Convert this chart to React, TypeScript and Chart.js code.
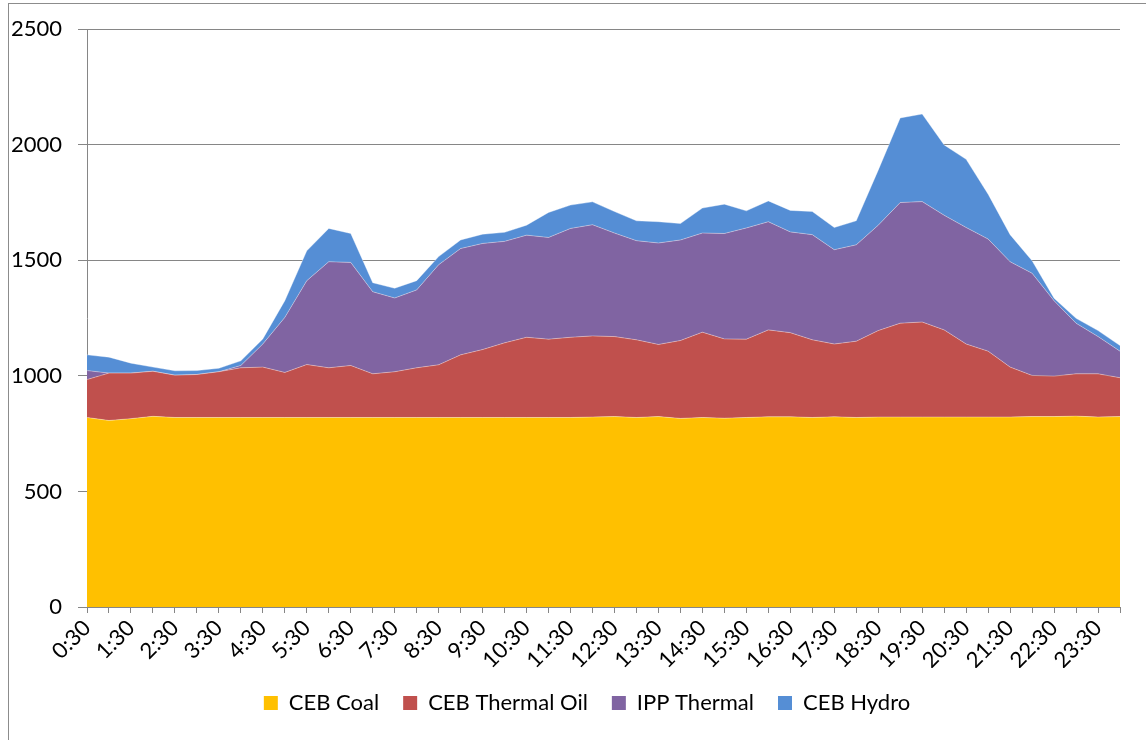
import React, { useEffect, useRef } from "react";
import { Chart, registerables } from "chart.js";
Chart.register(...registerables);

const timeLabels = [
  "0:30", "1:00", "1:30", "2:00", "2:30", "3:00", "3:30", "4:00",
  "4:30", "5:00", "5:30", "6:00", "6:30", "7:00", "7:30", "8:00",
  "8:30", "9:00", "9:30", "10:00", "10:30", "11:00", "11:30", "12:00",
  "12:30", "13:00", "13:30", "14:00", "14:30", "15:00", "15:30", "16:00",
  "16:30", "17:00", "17:30", "18:00", "18:30", "19:00", "19:30", "20:00",
  "20:30", "21:00", "21:30", "22:00", "22:30", "23:00", "23:30", "0:00",
];

const cebCoal = [
  820, 807, 815, 825, 820, 820, 820, 820, 820, 820, 820, 820,
  820, 820, 820, 820, 820, 820, 820, 820, 820, 820, 820, 822,
  824, 820, 824, 816, 820, 817, 820, 823, 823, 820, 823, 820,
  822, 822, 822, 822, 822, 822, 822, 824, 824, 826, 822, 824,
];

const cebThermalOil = [
  164, 205, 197, 195, 183, 186, 198, 215, 218, 195, 229, 215,
  225, 189, 198, 215, 228, 271, 294, 323, 347, 339, 347, 351,
  346, 336, 312, 337, 369, 343, 339, 376, 364, 336, 315, 330,
  374, 406, 411, 377, 316, 285, 216, 178, 175, 183, 187, 168,
];

const ippThermal = [
  39, 0, 0, 0, 0, 0, 0, 10, 100, 238, 363, 459,
  446, 355, 319, 337, 433, 460, 459, 439, 442, 440, 471, 481,
  448, 429, 439, 435, 429, 456, 481, 468, 436, 455, 408, 417,
  456, 522, 521, 496, 504, 485, 456, 442, 326, 219, 161, 115,
];

const cebHydro = [
  68, 69, 43, 18, 19, 17, 15, 20, 22, 72, 129, 144,
  125, 39, 42, 40, 35, 37, 40, 39, 43, 108, 101, 99,
  93, 86, 92, 71, 108, 127, 74, 90, 93, 100, 96, 104,
  238, 366, 379, 304, 295, 194, 117, 54, 11, 21, 26, 24,
];

const seriesNames = ["CEB Coal", "CEB Thermal Oil", "IPP Thermal", "CEB Hydro"];
const seriesColors = ["#FFC000", "#C0504D", "#8064A2", "#558ED5"];

const yMin = 0;
const yMax = 2500;
const yStep = 500;

const FONT = "Lato, Carlito, Calibri, 'Liberation Sans', sans-serif";
const AXIS_GRAY = "#868686";

// Shift the legend's box so it is centred under the whole chart frame.
const legendShift = {
  id: "legendShift",
  afterLayout(chart: any) {
    if (chart.legend) chart.legend.left = 54;
  },
};

export default function App() {
  const canvasRef = useRef<HTMLCanvasElement | null>(null);

  useEffect(() => {
    if (!canvasRef.current) return;
    const values = [cebCoal, cebThermalOil, ippThermal, cebHydro];
    const chart = new Chart(canvasRef.current, {
      type: "line",
      data: {
        labels: timeLabels,
        datasets: values.map((d, i) => ({
          label: seriesNames[i],
          data: d,
          backgroundColor: seriesColors[i],
          borderColor: "rgba(255,255,255,0.35)",
          borderWidth: 1,
          pointRadius: 0,
          tension: 0,
          fill: i === 0 ? "origin" : "-1",
        })),
      },
      plugins: [legendShift],
      options: {
        animation: false,
        responsive: false,
        maintainAspectRatio: false,
        layout: { padding: { top: 28, right: 26, bottom: 16, left: 0 } },
        plugins: {
          tooltip: { enabled: false },
          legend: {
            position: "bottom",
            labels: {
              color: "#000",
              font: { family: FONT, size: 22 },
              boxWidth: 14,
              boxHeight: 14,
              padding: 24,
              generateLabels: (c: any) =>
                c.data.datasets.map((ds: any, i: number) => ({
                  text: ds.label,
                  fillStyle: seriesColors[i],
                  strokeStyle: seriesColors[i],
                  lineWidth: 0,
                  hidden: false,
                  datasetIndex: i,
                })),
            },
          },
        },
        scales: {
          x: {
            offset: false,
            afterFit: (s: any) => { s.height = 61; },
            grid: {
              drawOnChartArea: false,
              drawTicks: true,
              tickLength: 6,
              color: AXIS_GRAY,
            },
            border: { display: true, color: AXIS_GRAY, width: 1 },
            ticks: {
              autoSkip: false,
              maxRotation: 45,
              minRotation: 45,
              color: "#000",
              padding: 2,
              font: { family: FONT, size: 22 },
              callback: (_v: any, i: number) => (i % 2 === 0 ? timeLabels[i] : ""),
            },
          },
          y: {
            stacked: true,
            min: yMin,
            max: yMax,
            afterFit: (s: any) => { s.width = 87; },
            grid: {
              color: AXIS_GRAY,
              drawTicks: true,
              tickLength: 9,
            },
            border: { display: true, color: AXIS_GRAY, width: 1 },
            ticks: {
              stepSize: yStep,
              color: "#000",
              padding: 16,
              font: { family: FONT, size: 22 },
              callback: (v: any) => String(v),
            },
          },
        },
      },
    });
    return () => chart.destroy();
  }, []);

  return (
    <div style={{ position: "fixed", left: 0, top: 0, width: 1146, height: 740, background: "#fff" }}>
      <div
        style={{
          position: "absolute",
          left: 8,
          top: 3,
          width: 1140,
          height: 740,
          border: "1px solid #8c8c8c",
          boxSizing: "border-box",
        }}
      />
      <canvas
        ref={canvasRef}
        width={1146}
        height={740}
        style={{ position: "absolute", left: 0, top: 0, width: 1146, height: 740 }}
      />
    </div>
  );
}
